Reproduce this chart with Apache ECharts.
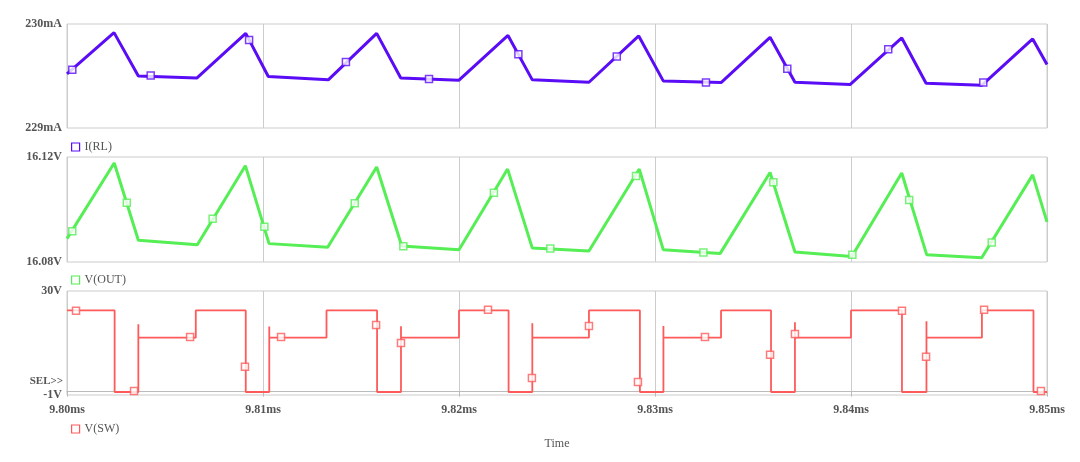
<!DOCTYPE html>
<html>
<head>
<meta charset="utf-8">
<script src="https://cdn.jsdelivr.net/npm/echarts@6/dist/echarts.min.js"></script>
<style>
html,body{margin:0;padding:0;background:#fff;}
#c{width:1080px;height:462px;}
</style>
</head>
<body>
<div id="c"></div>
<script>
// ---- time ticks (microseconds) ----
const xTicks = [9800, 9810, 9820, 9830, 9840, 9850];

// ---- I(RL) trace (time us, mA) ----
const iT = [9800.0, 9802.40, 9803.64, 9806.62, 9809.12, 9810.27, 9813.33, 9815.80, 9817.03, 9820.00, 9822.50, 9823.74, 9826.63, 9829.17, 9830.42, 9833.37, 9835.87, 9837.14, 9839.95, 9842.59, 9843.83, 9846.67, 9849.27, 9850.0];
const iV = [229.52, 229.917, 229.50, 229.48, 229.91, 229.495, 229.463, 229.91, 229.48, 229.46, 229.89, 229.463, 229.44, 229.885, 229.453, 229.437, 229.872, 229.44, 229.418, 229.866, 229.43, 229.41, 229.856, 229.61];
const iMarkT = [9800.27, 9804.27, 9809.29, 9814.23, 9818.47, 9823.03, 9828.05, 9832.60, 9836.75, 9841.90, 9846.75];
const iMarkV = [229.559, 229.504, 229.846, 229.635, 229.47, 229.71, 229.687, 229.437, 229.569, 229.757, 229.437];

// ---- V(OUT) trace (time us, V) ----
const vT = [9800.0, 9802.41, 9803.64, 9806.65, 9809.10, 9810.31, 9813.30, 9815.80, 9817.08, 9820.00, 9822.48, 9823.74, 9826.63, 9829.20, 9830.42, 9833.32, 9835.87, 9837.14, 9840.04, 9842.59, 9843.86, 9846.67, 9849.27, 9850.0];
const vV = [16.0889, 16.1177, 16.0883, 16.0866, 16.1167, 16.0870, 16.0856, 16.1162, 16.0861, 16.0847, 16.1154, 16.0853, 16.0842, 16.1154, 16.0847, 16.0832, 16.1141, 16.0838, 16.0821, 16.1139, 16.0828, 16.0816, 16.1132, 16.0953];
const vMarkT = [9800.27, 9803.05, 9807.43, 9810.07, 9814.68, 9817.16, 9821.78, 9824.66, 9829.03, 9832.47, 9836.04, 9840.07, 9842.97, 9847.18];
const vMarkV = [16.0917, 16.1026, 16.0965, 16.0934, 16.1024, 16.0860, 16.1064, 16.0851, 16.1128, 16.0836, 16.1104, 16.0828, 16.1036, 16.0874];

// ---- V(SW) trace: switching instants (us) and levels (V) ----
const swOffT  = [9802.43, 9809.12, 9815.82, 9822.53, 9829.23, 9835.92, 9842.60, 9849.31];
const swOnT   = [9803.64, 9810.32, 9817.04, 9823.74, 9830.43, 9837.14, 9843.85];
const swHighT = [9806.57, 9813.24, 9820.00, 9826.63, 9833.37, 9840.00, 9846.68];
const swSpikeV = [20.1, 19.4, 19.5, 20.4, 19.6, 20.7, 21.0];
const swHighV = 24.2, swMidV = 16.1, swLowV = -0.1;
const swMarkT = [9800.46, 9803.42, 9806.28, 9809.08, 9810.92, 9815.77, 9817.04, 9821.48, 9823.72, 9826.63, 9829.13, 9832.55, 9835.87, 9837.14, 9842.60, 9843.83, 9846.79, 9849.69];
const swMarkV = [24.1, 0.2, 16.3, 7.4, 16.3, 19.9, 14.5, 24.4, 4.1, 19.6, 2.9, 16.3, 11.0, 17.2, 24.1, 10.4, 24.4, 0.2];

const zip = (a, b) => a.map((t, i) => [t, b[i]]);

// build step table for V(SW)
const sw = [[9800, swHighV]];
for (let k = 0; k < swOffT.length; k++) {
  sw.push([swOffT[k], swHighV], [swOffT[k], swLowV]);
  if (k < swOnT.length) {
    sw.push([swOnT[k], swLowV], [swOnT[k], swSpikeV[k]], [swOnT[k], swMidV]);
    sw.push([swHighT[k], swMidV], [swHighT[k], swHighV]);
  } else {
    sw.push([9850, swLowV]);
  }
}

const C1 = '#5a0cf6', C2 = '#55ee55', C3 = '#ff5a5a';
const GRID = '#cccccc';
const FONT = 'Liberation Serif';
const txt = {color: '#555', fontFamily: FONT, fontSize: 12, fontWeight: 'bold'};

const grids = [
  {left: 67, top: 24, width: 980, height: 104},
  {left: 67, top: 157, width: 980, height: 105},
  {left: 67, top: 291, width: 980, height: 104}
].map(g => Object.assign(g, {show: true, borderColor: GRID, borderWidth: 1, backgroundColor: '#fff'}));

function xAx(i, bottom) {
  return {
    type: 'value', gridIndex: i, min: xTicks[0], max: xTicks[xTicks.length - 1], interval: 10,
    splitLine: {show: true, lineStyle: {color: GRID, width: 1}},
    axisLine: {show: bottom, lineStyle: {color: '#bbb'}},
    axisTick: {show: bottom, length: 5, lineStyle: {color: '#bbb'}},
    axisLabel: {show: bottom, margin: 9, formatter: v => (v / 1000).toFixed(2) + 'ms', ...txt},
    name: bottom ? 'Time' : '', nameLocation: 'middle', nameGap: 43,
    nameTextStyle: {...txt, fontWeight: 'normal'}
  };
}
function yAx(i, min, max, fmt) {
  return {
    type: 'value', gridIndex: i, min: min, max: max,
    splitLine: {show: false}, axisLine: {show: false}, axisTick: {show: false},
    axisLabel: {show: true, customValues: [min, max], margin: 5, formatter: fmt, ...txt}
  };
}

const markerSym = (c) => ({
  type: 'scatter', symbol: 'rect', symbolSize: 7, silent: true,
  itemStyle: {color: '#fff', borderColor: c, borderWidth: 1.5}, z: 5
});

const option = {
  animation: false,
  backgroundColor: '#fff',
  grid: grids,
  xAxis: [xAx(0, false), xAx(1, false), xAx(2, true)],
  yAxis: [
    yAx(0, 229, 230, v => Math.round(v) + 'mA'),
    yAx(1, 16.08, 16.12, v => v.toFixed(2) + 'V'),
    yAx(2, -1, 30, v => Math.round(v) + 'V')
  ],
  legend: [
    {left: 66, top: 136, data: [{name: 'I(RL)', itemStyle: {color: '#fff', borderColor: C1, borderWidth: 1.2}}]},
    {left: 66, top: 269, data: [{name: 'V(OUT)', itemStyle: {color: '#fff', borderColor: C2, borderWidth: 1.2}}]},
    {left: 66, top: 418, data: [{name: 'V(SW)', itemStyle: {color: '#fff', borderColor: C3, borderWidth: 1.2}}]}
  ].map(l => Object.assign(l, {icon: 'rect', itemWidth: 8, itemHeight: 8, itemGap: 6,
      textStyle: {color: '#555', fontFamily: FONT, fontSize: 12}, selectedMode: false})),
  graphic: [
    {type: 'text', right: 1080 - 63, top: 376, style: {text: 'SEL>>', fill: '#555', font: 'bold 11px "Liberation Serif"'}}
  ],
  series: [
    {name: 'I(RL)', type: 'line', xAxisIndex: 0, yAxisIndex: 0, data: zip(iT, iV), showSymbol: false,
     lineStyle: {color: C1, width: 3}, itemStyle: {color: C1}},
    Object.assign(markerSym(C1), {name: 'mI', xAxisIndex: 0, yAxisIndex: 0, data: zip(iMarkT, iMarkV)}),
    {name: 'V(OUT)', type: 'line', xAxisIndex: 1, yAxisIndex: 1, data: zip(vT, vV), showSymbol: false,
     lineStyle: {color: C2, width: 3}, itemStyle: {color: C2}},
    Object.assign(markerSym(C2), {name: 'mV', xAxisIndex: 1, yAxisIndex: 1, data: zip(vMarkT, vMarkV)}),
    {name: 'V(SW)', type: 'line', xAxisIndex: 2, yAxisIndex: 2, data: sw, showSymbol: false,
     lineStyle: {color: C3, width: 1.8}, itemStyle: {color: C3},
     markLine: {silent: true, symbol: 'none', label: {show: false},
       lineStyle: {color: '#bbb', width: 1, type: 'solid'}, data: [{yAxis: 0}], z: 1}},
    Object.assign(markerSym(C3), {name: 'mS', xAxisIndex: 2, yAxisIndex: 2, data: zip(swMarkT, swMarkV)})
  ]
};

const chart = echarts.init(document.getElementById('c'), null, {renderer: 'canvas'});
chart.setOption(option);
</script>
</body>
</html>
